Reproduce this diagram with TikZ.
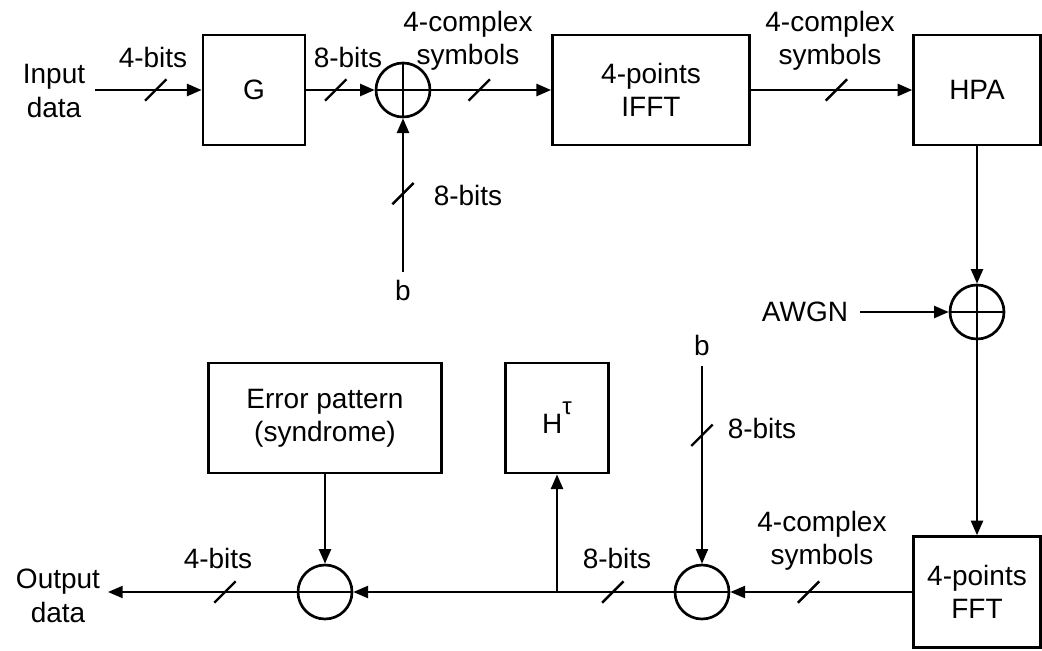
\documentclass[tikz,border=0pt]{standalone}
\usepackage{fontspec}
\setmainfont{Liberation Sans}
\usetikzlibrary{arrows.meta,decorations.markings}
\tikzset{
  blk/.style={draw, line width=2.1pt, inner sep=0pt, align=center},
  sumc/.style={draw, circle, line width=2pt, minimum size=40.5pt, inner sep=0pt},
  conn/.style={line width=1.9pt, -{Triangle[length=11pt,width=9pt]}},
  thin conn/.style={conn, line width=1.5pt},
  lbl/.style={inner sep=0pt, align=center},
  slashat/.style={postaction={decorate, decoration={markings,
     mark=at position #1 with {\pgftransformresetnontranslations
       \draw[-, line width=1.8pt] (-8pt,-8pt) -- (8pt,8pt);}}}},
}
\begin{document}
\begin{tikzpicture}[x=0.75pt, y=-0.75pt, font=\fontsize{21}{25}\selectfont]
\useasboundingbox (0,0) rectangle (1042,650);
% blocks
\node[blk, minimum width=76.5pt, minimum height=82.5pt] (G) at (254,90) {G};
\node[blk, minimum width=147.75pt, minimum height=82.5pt] (ifft) at (651,90) {4-points\\IFFT};
\node[blk, minimum width=95pt, minimum height=82.5pt] (hpa) at (977,90) {HPA};
\node[blk, minimum width=95pt, minimum height=83pt] (fft) at (977,592) {4-points\\FFT};
\node[blk, minimum width=77pt, minimum height=82.5pt] (H) at (557,418) {H\raisebox{1.3ex}{\fontsize{18}{20}\selectfont τ}};
\node[blk, minimum width=174.75pt, minimum height=82.5pt] (err) at (325,418) {Error pattern\\(syndrome)};
% summing junctions
\node[sumc] (add1) at (403,90) {};
\draw[line width=2pt] (add1.north) -- (add1.south) (add1.west) -- (add1.east);
\node[sumc] (add2) at (977,312) {};
\draw[line width=2pt] (add2.north) -- (add2.south) (add2.west) -- (add2.east);
\node[sumc] (c2) at (702,592) {};
\draw[line width=1.5pt] (c2.west) -- (c2.east);
\node[sumc] (c1) at (325,592) {};
\draw[line width=1.5pt] (c1.west) -- (c1.east);
% free ends
\coordinate (in) at (95,90);
\coordinate (bsrc) at (403,272);
\coordinate (awgnsrc) at (860,312);
\coordinate (b2src) at (702,366);
\coordinate (out) at (108,592);
\coordinate (branch) at (557,592);
% labels
\node[lbl] (tin) at (54,91) {Input\\data};
\node[lbl] (l1) at (153,57) {4-bits};
\node[lbl] (l2) at (348,57) {8-bits};
\node[lbl] (l3) at (468,41) {4-complex\\symbols};
\node[lbl] (l4) at (830,41) {4-complex\\symbols};
\node[lbl] (l5) at (468,195) {8-bits};
\node[lbl] (tb1) at (403,290) {b};
\node[lbl] (tawgn) at (805,312) {AWGN};
\node[lbl] (tb2) at (702,345) {b};
\node[lbl] (l6) at (762,428) {8-bits};
\node[lbl] (l7) at (822,541) {4-complex\\symbols};
\node[lbl] (l8) at (617,558) {8-bits};
\node[lbl] (l9) at (218,558) {4-bits};
\node[lbl] (tout) at (58,596) {Output\\data};
% connectors
\draw[conn, slashat=0.57] (in) -- (G);
\draw[conn, slashat=0.43] (G) -- (add1);
\draw[conn, slashat=0.51] (bsrc) -- (add1);
\draw[conn, slashat=0.40] (add1) -- (ifft);
\draw[conn, slashat=0.53] (ifft) -- (hpa);
\draw[conn] (hpa) -- (add2);
\draw[conn] (awgnsrc) -- (add2);
\draw[conn] (add2) -- (fft);
\draw[thin conn, slashat=0.57] (fft) -- (c2);
\draw[thin conn, slashat=0.35] (b2src) -- (c2);
\draw[thin conn, slashat=0.19] (c2) -- (c1);
\draw[conn] (branch) -- (branch |- H.south);
\draw[conn] (err) -- (c1);
\draw[thin conn, slashat=0.38] (c1) -- (out);
\end{tikzpicture}
\end{document}
